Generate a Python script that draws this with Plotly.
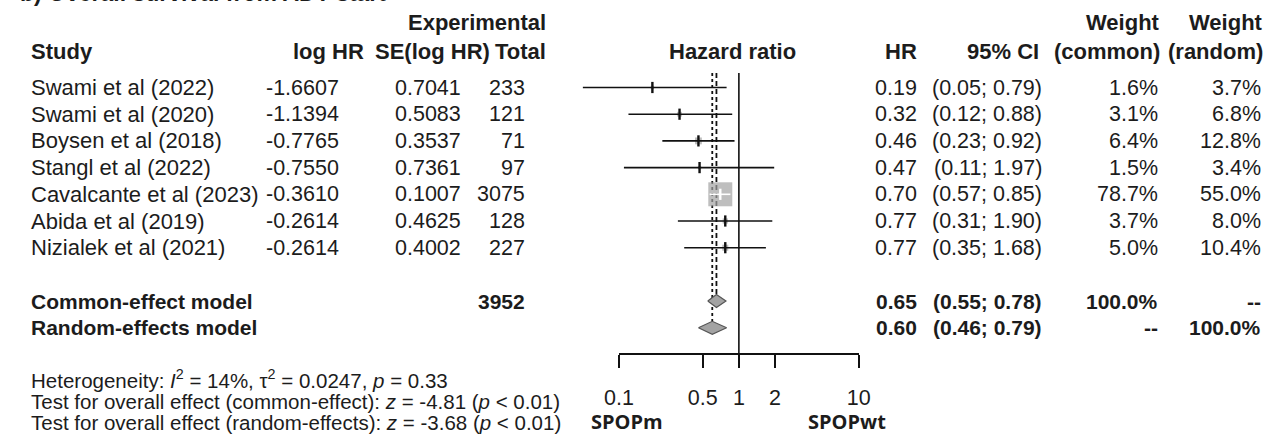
import math
import plotly.graph_objects as go

# ---------------- data ----------------
studies = ["Swami et al (2022)", "Swami et al (2020)", "Boysen et al (2018)",
           "Stangl et al (2022)", "Cavalcante et al (2023)", "Abida et al (2019)",
           "Nizialek et al (2021)"]
log_hr = ["-1.6607", "-1.1394", "-0.7765", "-0.7550", "-0.3610", "-0.2614", "-0.2614"]
se_log_hr = ["0.7041", "0.5083", "0.3537", "0.7361", "0.1007", "0.4625", "0.4002"]
total = [233, 121, 71, 97, 3075, 128, 227]
hr = [0.19, 0.32, 0.46, 0.47, 0.70, 0.77, 0.77]
ci_low = [0.05, 0.12, 0.23, 0.11, 0.57, 0.31, 0.35]
ci_high = [0.79, 0.88, 0.92, 1.97, 0.85, 1.90, 1.68]
w_common = [1.6, 3.1, 6.4, 1.5, 78.7, 3.7, 5.0]
w_random = [3.7, 6.8, 12.8, 3.4, 55.0, 8.0, 10.4]

models = ["Common-effect model", "Random-effects model"]
model_total = ["3952", ""]
model_hr = [0.65, 0.60]
model_low = [0.55, 0.46]
model_high = [0.78, 0.79]
model_w_common = ["100.0%", "--"]
model_w_random = ["--", "100.0%"]

axis_ticks = [0.1, 0.5, 1, 2, 10]
axis_labels = ["0.1", "0.5", "1", "2", "10"]
favours = ["SPOPm", "SPOPwt"]

heterogeneity = "Heterogeneity: <i>I</i><sup>2</sup> = 14%, τ<sup>2</sup> = 0.0247, <i>p</i> = 0.33"
test_common = "Test for overall effect (common-effect): <i>z</i> = -4.81 (<i>p</i> &lt; 0.01)"
test_random = "Test for overall effect (random-effects): <i>z</i> = -3.68 (<i>p</i> &lt; 0.01)"
title = "b) Overall survival from ADT start"

# ---------------- layout helpers ----------------
W, H = 1278, 435
FONT = "Liberation Sans, Arial, sans-serif"
TXT = "#1c1c1c"
FS = 21.5

ROW0, ROWH = 87.5, 26.7            # pixel y of first row, row height
AXIS_Y = 354                       # pixel y of the hazard-ratio axis line
study_rows = list(range(len(studies)))
model_rows = [len(studies) + 1, len(studies) + 2]

# log axis mapping: 1 -> 739.5 px, 122.5 px per decade
X1, DEC = 739.5, 122.5
xr0, xr1 = -X1 / DEC, (W - X1) / DEC
yr_top, yr_bot = -ROW0 / ROWH, (H - ROW0) / ROWH


def px(x):
    return x / W


def py(y):
    return 1 - y / H


def row_of(y):
    return (y - ROW0) / ROWH


fig = go.Figure()

# reference line at HR = 1
fig.add_trace(go.Scatter(x=[1, 1], y=[row_of(73), row_of(AXIS_Y)], mode="lines",
                         line=dict(color="#111", width=1.6), hoverinfo="skip",
                         showlegend=False))

# common (dashed) and random (dotted) effect lines
dh = 6.5 / ROWH
fig.add_trace(go.Scatter(x=[model_hr[0]] * 2, y=[row_of(73), model_rows[0] - dh],
                         mode="lines", line=dict(color="#111", width=1.8, dash="5px,3px"),
                         hoverinfo="skip", showlegend=False))
fig.add_trace(go.Scatter(x=[model_hr[1]] * 2, y=[row_of(73), model_rows[1] - dh],
                         mode="lines", line=dict(color="#111", width=1.8, dash="dot"),
                         hoverinfo="skip", showlegend=False))

# study squares (size ~ sqrt(weight))
sizes = [24 * math.sqrt(w / max(w_common)) for w in w_common]
fig.add_trace(go.Scatter(x=hr, y=study_rows, mode="markers",
                         marker=dict(symbol="square", size=sizes, color="#a3a3a3",
                                     line=dict(width=0)),
                         hoverinfo="skip", showlegend=False))

# confidence intervals
for i in range(len(studies)):
    inside = w_common[i] > 50
    col = "white" if inside else "#111"
    fig.add_trace(go.Scatter(x=[ci_low[i], ci_high[i]], y=[study_rows[i]] * 2,
                             mode="lines", line=dict(color=col, width=1.6),
                             hoverinfo="skip", showlegend=False))
    fig.add_trace(go.Scatter(x=[hr[i]], y=[study_rows[i]], mode="markers",
                             marker=dict(symbol="line-ns", size=8,
                                         line=dict(color=col, width=2.4)),
                             hoverinfo="skip", showlegend=False))

# diamonds
for k in range(2):
    r = model_rows[k]
    fig.add_trace(go.Scatter(
        x=[model_low[k], model_hr[k], model_high[k], model_hr[k], model_low[k]],
        y=[r, r - dh, r, r + dh, r], mode="lines", fill="toself",
        fillcolor="#a3a3a3", line=dict(color="#555", width=1.2),
        hoverinfo="skip", showlegend=False))

# visible axis (0.1 .. 10) on its own x axis
fig.add_trace(go.Scatter(x=[1], y=[model_rows[1]], xaxis="x2", yaxis="y",
                         mode="markers", marker=dict(opacity=0), hoverinfo="skip",
                         showlegend=False))

ann = []


def T(text, x, y, anchor="left", bold=False, size=FS, yref="paper", family=FONT, color=TXT):
    if bold:
        text = "<b>" + text + "</b>"
    ann.append(dict(text=text, x=x, y=y, xref="paper", yref=yref, xanchor=anchor,
                    yanchor="middle", showarrow=False,
                    font=dict(family=family, size=size, color=color)))


# title (cut off at the top, as in the source image)
ann.append(dict(text="<b>" + title + "</b>", x=px(3), y=py(8), xref="paper", yref="paper",
                xanchor="left", yanchor="bottom", showarrow=False,
                font=dict(family=FONT, size=23, color=TXT)))

# headers
HB = 22
T("Experimental", px(545), py(23), "right", True, size=HB)
T("Weight", px(1172), py(23), "right", True, size=HB)
T("Weight", px(1277), py(23), "right", True, size=HB)
hy = py(52)
T("Study", px(14), hy, "left", True, size=HB)
T("log HR", px(359), hy, "right", True, size=HB)
T("SE(log HR)", px(487), hy, "right", True, size=HB)
T("Total", px(545), hy, "right", True, size=HB)
T("Hazard ratio", px(733), hy, "center", True, size=HB)
T("HR", px(923), hy, "right", True, size=HB)
T("95% CI", px(1048), hy, "right", True, size=HB)
T("(common)", px(1172), hy, "right", True, size=HB)
T("(random)", px(1277), hy, "right", True, size=HB)

# study rows
for i, r in enumerate(study_rows):
    T(studies[i], px(14), r, "left", yref="y", size=22)
    T(log_hr[i], px(333), r, "right", yref="y")
    T(se_log_hr[i], px(458), r, "right", yref="y")
    T(str(total[i]), px(523), r, "right", yref="y")
    T(f"{hr[i]:.2f}", px(923), r, "right", yref="y")
    T(f"({ci_low[i]:.2f}; {ci_high[i]:.2f})", px(1051), r, "right", yref="y")
    T(f"{w_common[i]:.1f}%", px(1170), r, "right", yref="y")
    T(f"{w_random[i]:.1f}%", px(1275), r, "right", yref="y")

# model rows
for k, r in enumerate(model_rows):
    T(models[k], px(14), r, "left", True, yref="y", size=21)
    T(model_total[k], px(523), r, "right", True, yref="y", size=21)
    T(f"{model_hr[k]:.2f}", px(923), r, "right", True, yref="y", size=21)
    T(f"({model_low[k]:.2f}; {model_high[k]:.2f})", px(1051), r, "right", True,
      yref="y", size=21)
    T(model_w_common[k], px(1170), r, "right", True, yref="y", size=21)
    T(model_w_random[k], px(1275), r, "right", True, yref="y", size=21)

# bottom statistics
T(heterogeneity, px(14), py(379), "left", size=20.5)
T(test_common, px(14), py(401), "left", size=20.5)
T(test_random, px(14), py(422), "left", size=20.5)

# favours labels
T(favours[0], px(625), py(421), "center", True, size=20, family="Open Sans, Lato, sans-serif")
T(favours[1], px(850), py(421), "center", True, size=20, family="Open Sans, Lato, sans-serif")

ax_lo, ax_hi = X1 + DEC * math.log10(axis_ticks[0]), X1 + DEC * math.log10(axis_ticks[-1])

fig.update_layout(
    width=W, height=H, margin=dict(l=0, r=0, t=0, b=0),
    paper_bgcolor="white", plot_bgcolor="rgba(0,0,0,0)",
    showlegend=False, annotations=ann,
    xaxis=dict(type="log", range=[xr0, xr1], domain=[0, 1], visible=False,
               fixedrange=True),
    yaxis=dict(range=[yr_bot, yr_top], domain=[0, 1], visible=False, fixedrange=True),
    xaxis2=dict(type="log", domain=[px(ax_lo), px(ax_hi)],
                range=[math.log10(axis_ticks[0]), math.log10(axis_ticks[-1])],
                anchor="free", position=py(AXIS_Y), showline=True, linecolor="#111",
                linewidth=1.6, ticks="outside", ticklen=13, tickwidth=1.6,
                tickcolor="#111", tickvals=axis_ticks, ticktext=axis_labels,
                tickfont=dict(family=FONT, size=FS, color=TXT), ticklabelstandoff=11,
                showgrid=False, zeroline=False, fixedrange=True),
)

fig.write_html("out.html", config={"displayModeBar": False})

# remove the browser's default page margin so the figure fills the window exactly
with open("out.html", encoding="utf-8") as f:
    html = f.read()
html = html.replace("<head>", "<head><style>html,body{margin:0;padding:0;overflow:hidden;}</style>", 1)
with open("out.html", "w", encoding="utf-8") as f:
    f.write(html)
